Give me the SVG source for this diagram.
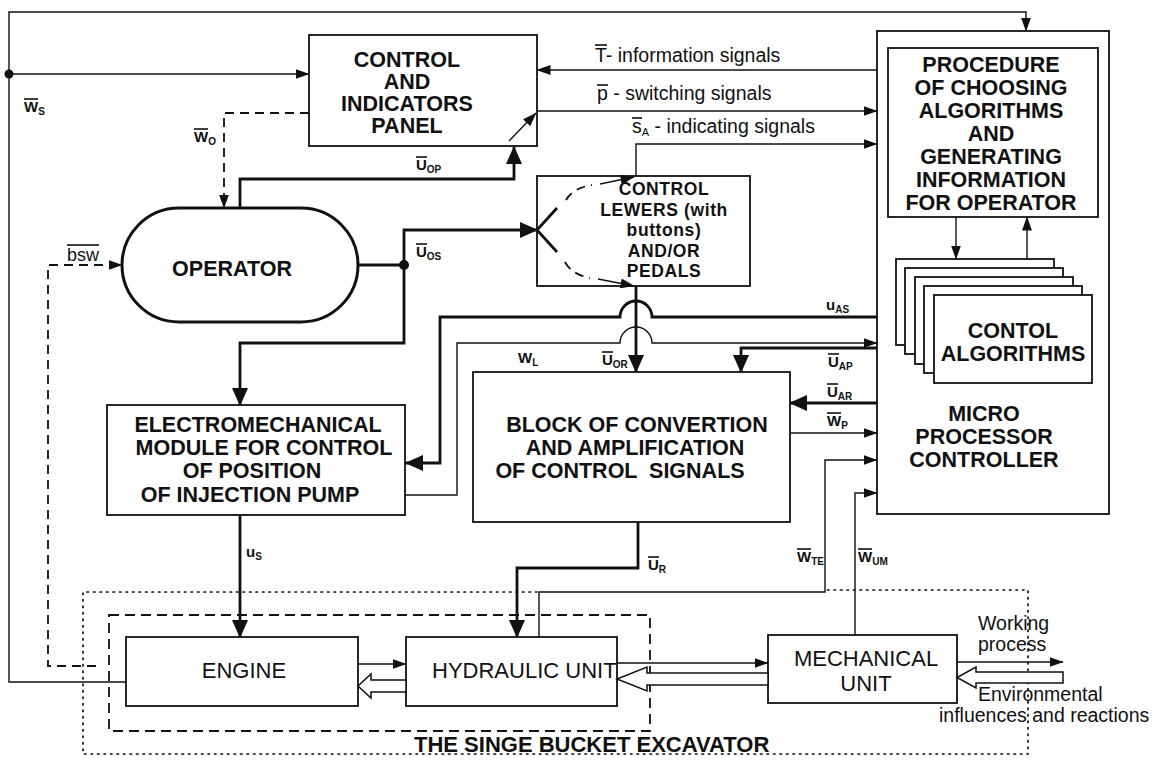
<svg xmlns="http://www.w3.org/2000/svg" width="1160" height="760" viewBox="0 0 1160 760">
<style>
.bx{fill:#fff;stroke:#111;stroke-width:1.8}
.t1{fill:none;stroke:#111;stroke-width:1.4}
.t2{fill:none;stroke:#111;stroke-width:2.8}
.ds{fill:none;stroke:#111;stroke-width:1.8;stroke-dasharray:9 6}
.dt{fill:none;stroke:#111;stroke-width:1.7;stroke-dasharray:1.5 5;stroke-linecap:round}
.hol{fill:#fff;stroke:#111;stroke-width:1.5}
.ov{stroke:#111;stroke-width:1.6}
text{font-family:"Liberation Sans",Arial,sans-serif;fill:#111}
.b{font-weight:bold;font-size:21.5px;text-anchor:middle}
.lw{font-weight:bold;font-size:17.5px;text-anchor:middle;letter-spacing:0.6px}
.r{font-size:22px}
.s{font-size:19.5px}
.w{font-size:19.5px}
.l{font-weight:bold;font-size:15px}
.u{font-size:10px}
</style>
<defs>
<marker id="al" markerUnits="userSpaceOnUse" markerWidth="18" markerHeight="16" refX="17" refY="8" orient="auto"><path d="M0,0 L18,8 L0,16 z" fill="#111"/></marker>
<marker id="as" markerUnits="userSpaceOnUse" markerWidth="14" markerHeight="10" refX="13.5" refY="5" orient="auto"><path d="M0,0 L14,5 L0,10 z" fill="#111"/></marker>
</defs>
<rect x="0" y="0" width="1160" height="760" fill="#fff"/>

<g id="excavator">
<path class="dt" d="M537,592 H83 V754 H1028 V590 H826"/>
<rect x="109" y="615" width="541" height="116" fill="none" stroke="#111" stroke-width="1.8" stroke-dasharray="10 6"/>
<text x="414" y="752" font-weight="bold" font-size="22">THE SINGE BUCKET EXCAVATOR</text>
</g>

<g id="panel">
<rect class="bx" x="309" y="35" width="228" height="111"/>
<text class="b" x="407" y="67">CONTROL</text>
<text class="b" x="407" y="89">AND</text>
<text class="b" x="407" y="111">INDICATORS</text>
<text class="b" x="407" y="133">PANEL</text>
</g>

<g id="micro">
<rect class="bx" x="877" y="31" width="232" height="483"/>
<text class="b" x="984" y="421">MICRO</text>
<text class="b" x="984" y="444">PROCESSOR</text>
<text class="b" x="984" y="467">CONTROLLER</text>
</g>

<g id="procedure">
<rect class="bx" x="888" y="48" width="210" height="169"/>
<text class="b" x="991" y="72">PROCEDURE</text>
<text class="b" x="991" y="95">OF CHOOSING</text>
<text class="b" x="991" y="118">ALGORITHMS</text>
<text class="b" x="991" y="141">AND</text>
<text class="b" x="991" y="164">GENERATING</text>
<text class="b" x="991" y="187">INFORMATION</text>
<text class="b" x="991" y="210">FOR OPERATOR</text>
</g>

<g id="algorithms">
<rect class="bx" x="896" y="259" width="158" height="86"/>
<rect class="bx" x="905" y="268" width="158" height="86"/>
<rect class="bx" x="915" y="277" width="158" height="87"/>
<rect class="bx" x="924" y="286" width="158" height="87"/>
<rect class="bx" x="934" y="295" width="158" height="88"/>
<text class="b" x="1013" y="338" font-size="22.5">CONTOL</text>
<text class="b" x="1013" y="361" font-size="22.5">ALGORITHMS</text>
</g>

<g id="operator">
<rect x="122" y="208" width="236" height="114" rx="57" ry="57" fill="#fff" stroke="#111" stroke-width="3"/>
<text class="b" x="232" y="276" font-size="26">OPERATOR</text>
</g>

<g id="lewers">
<rect class="bx" x="537" y="176" width="213" height="110"/>
<text class="lw" x="664" y="195">CONTROL</text>
<text class="lw" x="664" y="215.5">LEWERS (with</text>
<text class="lw" x="664" y="236">buttons)</text>
<text class="lw" x="664" y="256.5">AND/OR</text>
<text class="lw" x="664" y="277">PEDALS</text>
</g>

<g id="electromechanical">
<rect class="bx" x="107" y="405" width="298" height="110"/>
<text class="b" x="258" y="432">ELECTROMECHANICAL</text>
<text class="b" x="264" y="455">MODULE FOR CONTROL</text>
<text class="b" x="252" y="478">OF POSITION</text>
<text class="b" x="250" y="502">OF INJECTION PUMP</text>
</g>

<g id="block">
<rect class="bx" x="473" y="372" width="317" height="150"/>
<text class="b" x="637" y="432">BLOCK OF CONVERTION</text>
<text class="b" x="635" y="455">AND AMPLIFICATION</text>
<text class="b" x="620" y="478" xml:space="preserve">OF CONTROL  SIGNALS</text>
</g>

<g id="engine">
<rect class="bx" x="126" y="637" width="232" height="69"/>
<text class="r" x="244" y="678" text-anchor="middle">ENGINE</text>
</g>

<g id="hydraulic">
<rect class="bx" x="406" y="637" width="211" height="69"/>
<text class="r" x="432" y="678" font-size="20">HYDRAULIC UNIT</text>
</g>

<g id="mechanical">
<rect class="bx" x="768" y="635" width="189" height="68"/>
<text class="r" x="866" y="666" font-size="21" text-anchor="middle">MECHANICAL</text>
<text class="r" x="866" y="691" font-size="21" text-anchor="middle">UNIT</text>
</g>

<g id="connectors">
<path class="t1" d="M126,682 H9 V12 H1026 V31" marker-end="url(#as)"/>
<path class="t1" d="M9,74 H309" marker-end="url(#as)"/>
<circle cx="9" cy="74" r="4.5" fill="#111"/>
<path class="t1" d="M877,70 H537" marker-end="url(#as)"/>
<path class="t1" d="M537,111 H877" marker-end="url(#as)"/>
<path class="t1" d="M636,176 V144 H877" marker-end="url(#as)"/>
<path class="t2" d="M240,208 V179 H514 V147" marker-end="url(#al)"/>
<path class="t1" d="M509,141 L536,113" stroke-width="2" marker-end="url(#as)"/>
<path class="ds" d="M309,113 H224 V208" marker-end="url(#as)"/>
<path class="ds" d="M96,666 H48 V265 H122" marker-end="url(#as)"/>
<path class="t2" d="M358,265 H404 V230 H537" marker-end="url(#al)"/>
<path class="t2" d="M404,265 V343 H240 V405" marker-end="url(#al)"/>
<circle cx="404" cy="265" r="5" fill="#111"/>
<path class="t2" d="M557,208 L537,230 L557,252" stroke-width="2.2"/>
<path class="ds" d="M566,200 Q573,188 592,185" stroke-width="2" stroke-dasharray="8 6"/>
<path class="t1" d="M600,184 L634,177" stroke-width="2" marker-end="url(#as)"/>
<path class="ds" d="M565,262 Q571,274 590,278" stroke-width="2" stroke-dasharray="8 6"/>
<path class="t1" d="M598,279 L634,286" stroke-width="2" marker-end="url(#as)"/>
<path class="t2" d="M636,286 V372" marker-end="url(#al)"/>
<path class="t2" d="M877,317 H652 A16,16 0 0 0 620,317 H440 V463 H406" marker-end="url(#al)"/>
<path class="t1" d="M405,495 H457 V343 H620 A16,16 0 0 1 652,343 H877" marker-end="url(#as)"/>
<path class="t2" d="M877,348 H741 V372" marker-end="url(#al)"/>
<path class="t2" d="M877,403 H790" marker-end="url(#al)"/>
<path class="t1" d="M790,433 H877" marker-end="url(#as)"/>
<path class="t1" d="M539,637 V592 H825 V460 H877" marker-end="url(#as)"/>
<path class="t1" d="M855,635 V493 H877" marker-end="url(#as)"/>
<path class="t2" d="M638,522 V568 H517 V637" marker-end="url(#al)"/>
<path class="t2" d="M240,515 V637" marker-end="url(#al)"/>
<path class="t1" d="M956,217 V259" marker-end="url(#as)"/>
<path class="t1" d="M1027,259 V217" marker-end="url(#as)"/>
<path class="t1" d="M358,664 H406" marker-end="url(#as)"/>
<polygon class="hol" points="406,680 371,680 371,674 358,686 371,698 371,692 406,692"/>
<path class="t1" d="M617,663 H768" marker-end="url(#as)"/>
<polygon class="hol" points="768,673 647,673 647,667 617,679 647,691 647,685 768,685"/>
<path class="t1" d="M957,662 H1063" marker-end="url(#as)"/>
<polygon class="hol" points="1063,672 976,672 976,667 957,677.5 976,688 976,683 1063,683"/>
</g>

<g id="labels">
<text class="s" x="595" y="62">T- information signals</text>
<line class="ov" x1="595" y1="45" x2="607" y2="45"/>
<text class="s" x="597" y="100">p - switching signals</text>
<line class="ov" x1="597" y1="85" x2="608" y2="85"/>
<text class="s" x="632" y="133">s<tspan font-size="11" dy="3">A</tspan><tspan dy="-3"> - indicating signals</tspan></text>
<line class="ov" x1="632" y1="118" x2="642" y2="118"/>

<text class="l" x="24" y="112">W<tspan class="u" dy="3">S</tspan></text>
<line class="ov" x1="24" y1="99" x2="38" y2="99"/>
<text class="l" x="194" y="142">W<tspan class="u" dy="3">O</tspan></text>
<line class="ov" x1="194" y1="129" x2="208" y2="129"/>
<text class="l" x="416" y="170">U<tspan class="u" dy="3">OP</tspan></text>
<line class="ov" x1="416" y1="157" x2="427" y2="157"/>
<text class="l" x="416" y="257">U<tspan class="u" dy="3">OS</tspan></text>
<line class="ov" x1="416" y1="244" x2="427" y2="244"/>
<text x="67" y="261" font-size="18">bsw</text>
<line class="ov" x1="67" y1="245" x2="99" y2="245"/>
<text class="l" x="518" y="363">W<tspan class="u" dy="3">L</tspan></text>
<text class="l" x="602" y="365">U<tspan class="u" dy="3">OR</tspan></text>
<line class="ov" x1="602" y1="352" x2="613" y2="352"/>
<text class="l" x="826" y="310">u<tspan class="u" dy="3">AS</tspan></text>
<text class="l" x="828" y="367">U<tspan class="u" dy="3">AP</tspan></text>
<line class="ov" x1="828" y1="354" x2="839" y2="354"/>
<text class="l" x="827" y="397">U<tspan class="u" dy="3">AR</tspan></text>
<line class="ov" x1="827" y1="384" x2="838" y2="384"/>
<text class="l" x="827" y="426">W<tspan class="u" dy="3">P</tspan></text>
<line class="ov" x1="827" y1="413" x2="841" y2="413"/>
<text class="l" x="648" y="570">U<tspan class="u" dy="3">R</tspan></text>
<line class="ov" x1="648" y1="557" x2="659" y2="557"/>
<text class="l" x="797" y="562">W<tspan class="u" dy="3">TE</tspan></text>
<line class="ov" x1="797" y1="549" x2="811" y2="549"/>
<text class="l" x="858" y="562">W<tspan class="u" dy="3">UM</tspan></text>
<line class="ov" x1="858" y1="549" x2="872" y2="549"/>
<text class="l" x="246" y="557">u<tspan class="u" dy="3">S</tspan></text>

<text class="w" x="978" y="630">Working</text>
<text class="w" x="978" y="651">process</text>
<text class="w" x="978" y="701">Environmental</text>
<text class="w" x="939" y="722">influences and reactions</text>
</g>
</svg>
